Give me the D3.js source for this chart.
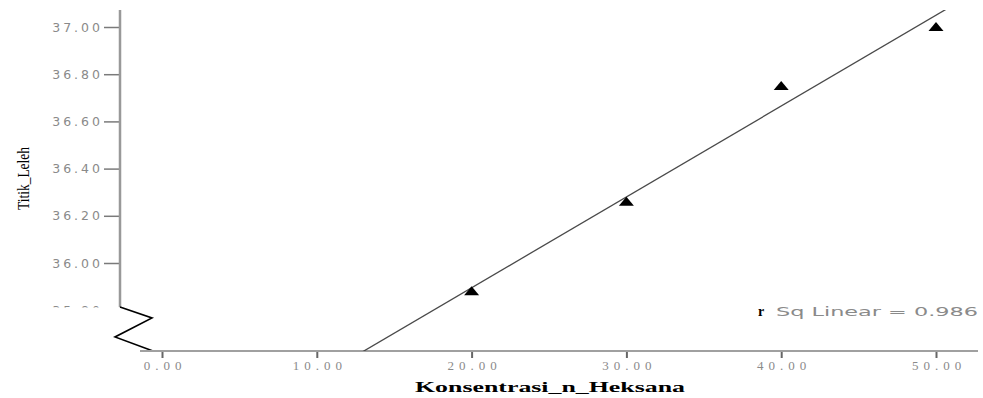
<!DOCTYPE html>
<html>
<head>
<meta charset="utf-8">
<title>Titik Leleh vs Konsentrasi n-Heksana</title>
<script src="https://d3js.org/d3.v7.min.js"></script>
<style>
  body { margin: 0; background: #fff; }
  .ytick text { font-family: 'DejaVu Sans', sans-serif; font-size: 12.5px; fill: #8a8a8a; letter-spacing: 3px; }
  .xtick text { font-family: 'Liberation Serif', serif; font-size: 13px; fill: #8a8a8a; letter-spacing: 5px; }
</style>
</head>
<body>
<svg id="chart" width="983" height="398"></svg>
<script>
// data
var konsentrasi = [20, 30, 40, 50];
var titikLeleh = [35.88, 36.26, 36.75, 37.00];
var xTicks = [0, 10, 20, 30, 40, 50];
var yTicks = [35.8, 36.0, 36.2, 36.4, 36.6, 36.8, 37.0];
var rSqLabel = "0.986";

var svg = d3.select("#chart");

// frame
var axisX = 120, yTop = 10, yBreak = 307;
var xAxisY = 351, xLeft = 140, xRight = 978;

var x = d3.scaleLinear().domain([0, 50]).range([162, 936]);
var y = d3.scaleLinear().domain([36, 37]).range([263, 27]);

var defs = svg.append("defs");
defs.append("clipPath").attr("id", "yclip")
  .append("rect").attr("x", 0).attr("y", 0).attr("width", axisX + 5).attr("height", yBreak + 0.5);
defs.append("clipPath").attr("id", "plotclip")
  .append("rect").attr("x", xLeft).attr("y", yTop).attr("width", xRight - xLeft).attr("height", xAxisY - yTop);

// y axis
var yAxisG = svg.append("g")
  .attr("clip-path", "url(#yclip)")
  .append("g")
  .attr("class", "ytick")
  .attr("transform", "translate(" + axisX + ",0)")
  .call(d3.axisLeft(y).tickValues(yTicks).tickFormat(d3.format(".2f")).tickSize(16).tickPadding(1));
yAxisG.select(".domain").remove();
yAxisG.selectAll(".tick line").attr("stroke", "#7a7a7a").attr("stroke-width", 1.5);
svg.append("line")
  .attr("x1", axisX).attr("x2", axisX).attr("y1", yTop).attr("y2", yBreak)
  .attr("stroke", "#999").attr("stroke-width", 2.5);

// axis break
svg.append("polyline")
  .attr("points", [[axisX, yBreak], [152, 318], [115, 337], [153, xAxisY]].map(p => p.join(",")).join(" "))
  .attr("fill", "none").attr("stroke", "#000").attr("stroke-width", 1.6);

// x axis
svg.append("line")
  .attr("x1", xLeft).attr("x2", xRight).attr("y1", xAxisY).attr("y2", xAxisY)
  .attr("stroke", "#a0a0a0").attr("stroke-width", 2);
var xAxisG = svg.append("g")
  .attr("class", "xtick")
  .attr("transform", "translate(0," + (xAxisY + 1) + ")")
  .call(d3.axisBottom(x).tickValues(xTicks).tickFormat(d3.format(".2f")).tickSize(6).tickPadding(3));
xAxisG.select(".domain").remove();
xAxisG.selectAll(".tick line").attr("stroke", "#666").attr("stroke-width", 2);
xAxisG.selectAll(".tick text").attr("dx", "2.5");

// linear fit
var mx = d3.mean(konsentrasi), my = d3.mean(titikLeleh);
var sxy = d3.sum(konsentrasi, (d, i) => (d - mx) * (titikLeleh[i] - my));
var sxx = d3.sum(konsentrasi, d => (d - mx) * (d - mx));
var slope = sxy / sxx, intercept = my - slope * mx;
var fitX = [0, 60];
svg.append("g").attr("clip-path", "url(#plotclip)")
  .append("line")
  .attr("x1", x(fitX[0])).attr("y1", y(intercept + slope * fitX[0]))
  .attr("x2", x(fitX[1])).attr("y2", y(intercept + slope * fitX[1]))
  .attr("stroke", "#4a4a4a").attr("stroke-width", 1.3);

// points
var tri = "M0,-5 L7.5,4 L-7.5,4 Z";
svg.selectAll(".pt")
  .data(konsentrasi)
  .enter()
  .append("path")
  .attr("class", "pt")
  .attr("d", tri)
  .attr("fill", "#000")
  .attr("transform", (d, i) => "translate(" + x(d) + "," + y(titikLeleh[i]) + ")");

// R sq label
svg.append("text")
  .attr("x", 758).attr("y", 316)
  .style("font-family", "'Liberation Serif', serif").style("font-weight", "bold")
  .style("font-size", "14px").attr("fill", "#000")
  .text("r");
svg.append("text")
  .attr("x", 776).attr("y", 316)
  .attr("textLength", 202).attr("lengthAdjust", "spacingAndGlyphs")
  .style("font-family", "'DejaVu Sans', sans-serif").style("font-size", "12px").attr("fill", "#8a8a8a")
  .text("Sq Linear = " + rSqLabel);

// axis titles
svg.append("text")
  .attr("x", 415).attr("y", 392)
  .attr("textLength", 270).attr("lengthAdjust", "spacingAndGlyphs")
  .style("font-family", "'Liberation Serif', serif").style("font-weight", "bold")
  .style("font-size", "14px").attr("fill", "#000")
  .text("Konsentrasi_n_Heksana");
svg.append("text")
  .attr("transform", "translate(29,210) rotate(-90)")
  .attr("textLength", 63).attr("lengthAdjust", "spacingAndGlyphs")
  .style("font-family", "'Liberation Serif', serif")
  .style("font-size", "16px").attr("fill", "#000")
  .text("Titik_Leleh");
</script>
</body>
</html>
